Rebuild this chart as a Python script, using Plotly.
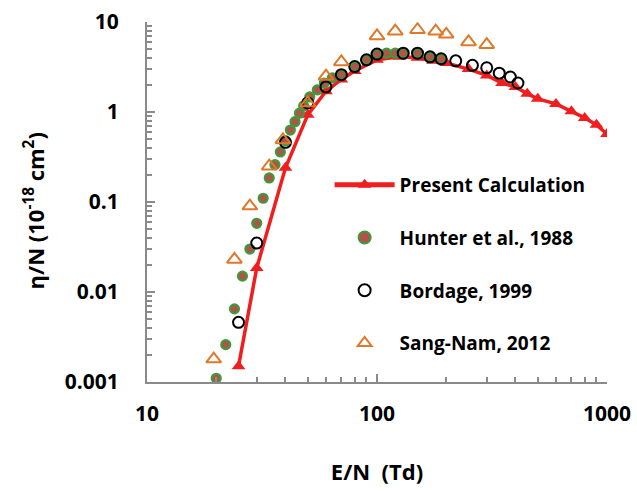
import plotly.graph_objects as go

# ---- data ----
calc_x = [25, 30, 40, 50, 60, 70, 80, 100, 125, 150, 175, 200, 250, 300, 350, 400, 450, 500, 600, 700, 800, 900, 1000]
calc_y = [0.0015, 0.0185, 0.24, 0.93, 1.7, 2.3, 2.85, 3.8, 4.1, 4.0, 3.7, 3.5, 3.0, 2.55, 2.1, 1.9, 1.6, 1.4, 1.23, 1.02, 0.86, 0.72, 0.57]

hunter_x = [20, 22, 24, 26, 28, 30, 32, 34, 36, 38, 40, 42, 44, 46, 48, 51, 55, 59, 64, 70, 80, 90, 100, 110, 120, 130, 150, 170, 190]
hunter_y = [0.0011, 0.0026, 0.0065, 0.015, 0.030, 0.058, 0.11, 0.185, 0.26, 0.36, 0.48, 0.63, 0.78, 0.97, 1.17, 1.47, 1.76, 2.1, 2.4, 2.6, 3.2, 3.8, 4.4, 4.5, 4.5, 4.5, 4.5, 4.1, 3.9]

bordage_x = [25, 30, 40, 50, 60, 70, 80, 90, 100, 130, 150, 170, 190, 220, 260, 300, 340, 380, 410]
bordage_y = [0.0046, 0.035, 0.46, 1.26, 1.9, 2.6, 3.2, 3.8, 4.4, 4.5, 4.5, 4.1, 3.9, 3.7, 3.3, 3.1, 2.7, 2.45, 2.1]

sang_x = [19.5, 24, 28, 34, 39, 50, 60, 70, 100, 120, 150, 180, 200, 250, 300]
sang_y = [0.0018, 0.023, 0.09, 0.25, 0.49, 1.26, 2.5, 3.6, 7.0, 7.9, 8.2, 7.9, 7.3, 6.0, 5.6]

x_ticks = [10, 100, 1000]
x_ticktext = ["10", "100", "1000"]
y_ticks = [0.001, 0.01, 0.1, 1, 10]
y_ticktext = ["0.001", "0.01", "0.1", "1", "10"]

FONT = "Open Sans"
RED = "#F01E1E"
GREEN = "#3E9A3A"
BROWN = "#B5504A"
ORANGE = "#E0782A"
AXIS = "#8A8A8A"

fig = go.Figure()
fig.add_trace(go.Scatter(
    x=calc_x, y=calc_y, mode="lines+markers", name="Present Calculation",
    legendgroup="a",
    line=dict(color=RED, width=3.5),
    marker=dict(symbol="triangle-up", size=12, color=RED, line=dict(width=0))))
fig.add_trace(go.Scatter(
    x=hunter_x, y=hunter_y, mode="markers", name="Hunter et al., 1988",
    legendgroup="b",
    marker=dict(symbol="circle", size=9, color=BROWN, line=dict(color=GREEN, width=2.2))))
fig.add_trace(go.Scatter(
    x=bordage_x, y=bordage_y, mode="markers", name="Bordage, 1999",
    legendgroup="c",
    marker=dict(symbol="circle-open", size=11, color="black", line=dict(color="black", width=2))))
fig.add_trace(go.Scatter(
    x=sang_x, y=sang_y, mode="markers", name="Sang-Nam, 2012",
    legendgroup="d",
    marker=dict(symbol="triangle-up-open", size=13, color=ORANGE, line=dict(color=ORANGE, width=2))))

fig.update_layout(
    width=637, height=491,
    margin=dict(l=147, r=30, t=22, b=109, autoexpand=False),
    paper_bgcolor="white", plot_bgcolor="white",
    font=dict(family=FONT, color="black"),
    showlegend=True,
    legend=dict(x=0.397, y=0.60, xanchor="left", yanchor="top",
                font=dict(family=FONT, size=19, color="black", weight="bold"),
                bgcolor="rgba(0,0,0,0)", itemwidth=60, tracegroupgap=25,
                itemsizing="constant"),
)
fig.update_xaxes(
    type="log", range=[1, 3], tickvals=x_ticks, ticktext=x_ticktext, automargin=False,
    showgrid=False, zeroline=False, showline=True, linecolor=AXIS, linewidth=2,
    ticks="inside", ticklen=8, tickcolor=AXIS, tickwidth=1.5,
    tickfont=dict(family=FONT, size=21, color="black", weight="bold"),
    ticklabelstandoff=12,
    minor=dict(ticks="inside", ticklen=5, tickcolor=AXIS, tickwidth=1.5, dtick="D1", showgrid=False),
    title=dict(text="E/N  (Td)", font=dict(family=FONT, size=22, color="black", weight="bold"), standoff=38),
)
fig.update_yaxes(
    type="log", range=[-3, 1], tickvals=y_ticks, ticktext=y_ticktext, automargin=False,
    showgrid=False, zeroline=False, showline=True, linecolor=AXIS, linewidth=2,
    ticks="inside", ticklen=8, tickcolor=AXIS, tickwidth=1.5,
    tickfont=dict(family=FONT, size=21, color="black", weight="bold"),
    ticklabelstandoff=22,
    minor=dict(ticks="inside", ticklen=5, tickcolor=AXIS, tickwidth=1.5, dtick="D1", showgrid=False),
)
fig.add_annotation(
    text="η/N (10<sup>-18</sup> cm<sup>2</sup>)", xref="paper", yref="paper",
    x=-0.247, y=0.475, xanchor="center", yanchor="middle", textangle=-90, showarrow=False,
    font=dict(family=FONT, size=22, color="black", weight="bold"))

fig.write_html("out.html")
